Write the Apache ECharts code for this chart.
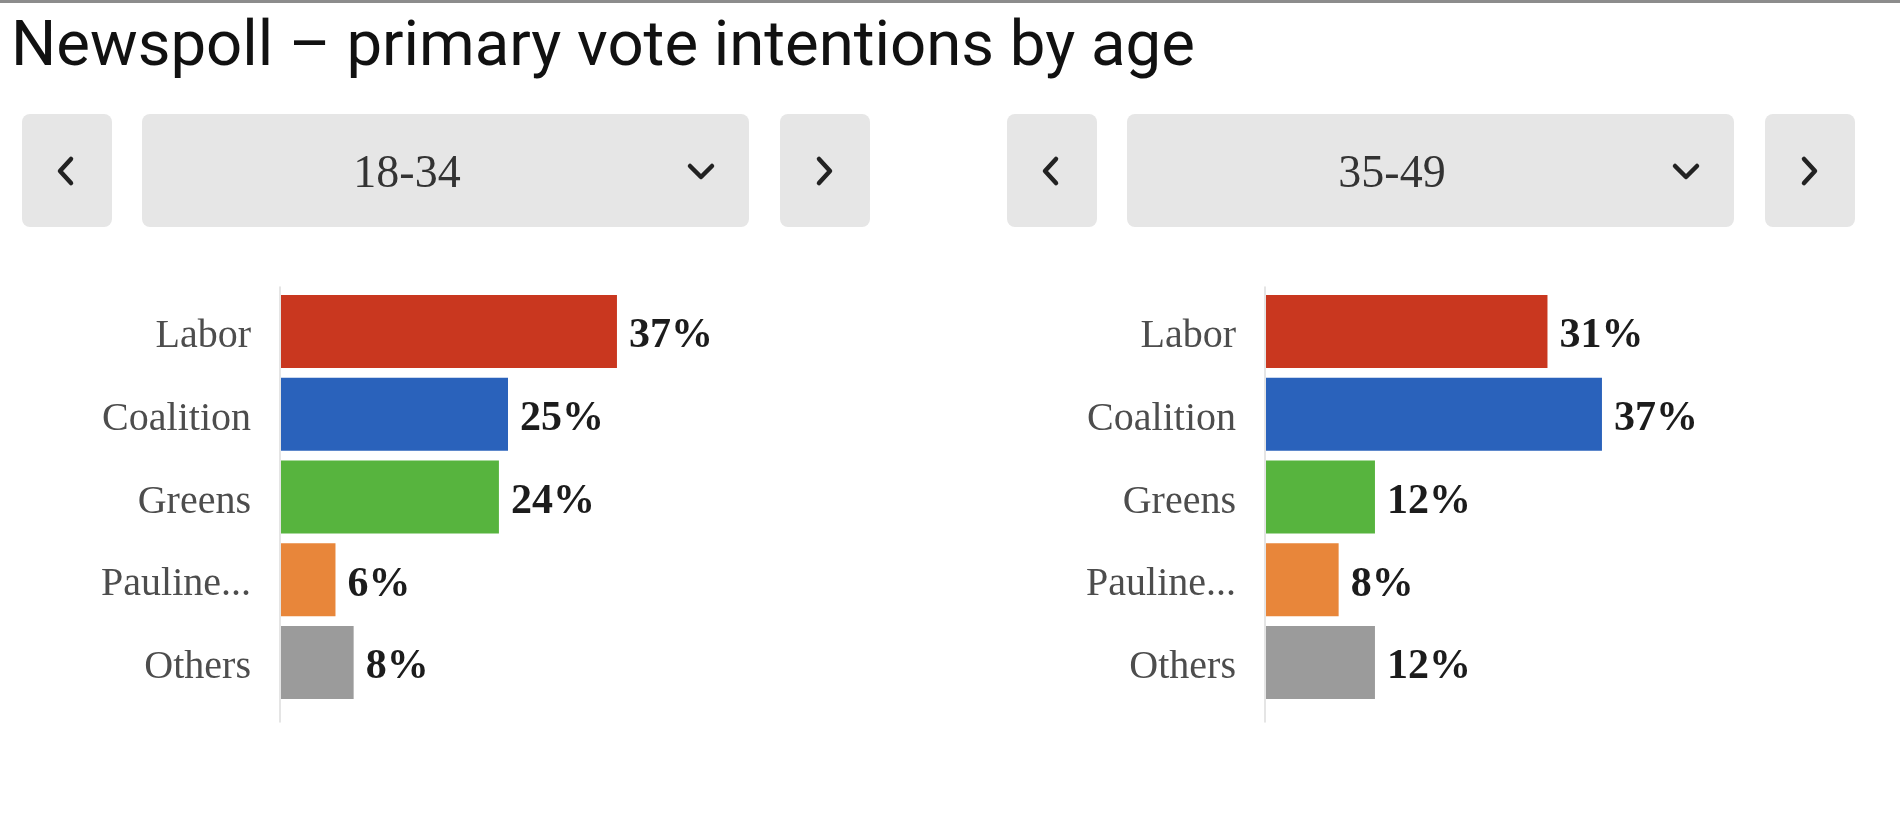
<!DOCTYPE html>
<html>
<head>
<meta charset="utf-8">
<script src="https://cdn.jsdelivr.net/npm/echarts@6/dist/echarts.min.js"></script>
<style>
  html, body { margin: 0; padding: 0; background: #fff; }
  #chart { width: 1900px; height: 814px; }
</style>
</head>
<body>
<div id="chart"></div>
<script>
// data
const categories = ['Labor', 'Coalition', 'Greens', 'Pauline...', 'Others'];
const ageGroups = ['18-34', '35-49'];
const values1834 = [37, 25, 24, 6, 8];
const values3549 = [31, 37, 12, 8, 12];
const panelValues = [values1834, values3549];

// styles
const partyColors = ['#c9371f', '#2a62bb', '#57b43e', '#e8863a', '#9b9b9b'];
const serif = '"Liberation Serif", "DejaVu Serif", serif';
const panelShift = [0, 985];   // horizontal offset of each panel
const btnFill = '#e6e6e6';
const arrowColor = '#222';

const myChart = echarts.init(document.getElementById('chart'));

// grids: one per panel for bars, plus one per panel for the long axis line
const grids = [];
const xAxes = [];
const yAxes = [];
const series = [];
panelValues.forEach(function (vals, i) {
  grids.push({ left: 281 + panelShift[i], top: 290, width: 454, height: 414 });
  xAxes.push({
    gridIndex: i, type: 'value', min: 0, max: 50, show: false
  });
  yAxes.push({
    gridIndex: i,
    type: 'category',
    data: categories,
    inverse: true,
    axisLine: { show: false },
    axisTick: { show: false },
    axisLabel: {
      margin: 30,
      formatter: function (v) { return '{c|' + v + '}'; },
      rich: {
        c: {
          color: '#4d4d4d',
          fontFamily: serif,
          fontSize: 40,
          padding: [10, 0, 0, 0]
        }
      }
    }
  });
  series.push({
    type: 'bar',
    xAxisIndex: i,
    yAxisIndex: i,
    barWidth: 73,
    data: vals.map(function (v, k) {
      return { value: v, itemStyle: { color: partyColors[k] } };
    }),
    label: {
      show: true,
      position: 'right',
      distance: 12,
      offset: [0, 5],
      formatter: '{c}%',
      color: '#1c1c1c',
      fontFamily: serif,
      fontWeight: 'bold',
      fontSize: 42
    },
    silent: true
  });
});
// thin axis lines
panelShift.forEach(function (dx, i) {
  grids.push({ left: 280 + dx, top: 287, width: 454, height: 435 });
  xAxes.push({ gridIndex: 2 + i, type: 'value', show: false });
  yAxes.push({
    gridIndex: 2 + i,
    type: 'value',
    axisLine: { show: true, lineStyle: { color: '#dcdcdc', width: 1.5 } },
    axisTick: { show: false },
    axisLabel: { show: false },
    splitLine: { show: false }
  });
});

// selector buttons above each panel
const graphics = [
  { type: 'rect', shape: { x: 0, y: 0, width: 1900, height: 3 }, style: { fill: '#8c8c8c' } }
];
const arrowStyle = { stroke: arrowColor, lineWidth: 4.5, lineCap: 'round', lineJoin: 'round', fill: 'none' };
ageGroups.forEach(function (age, i) {
  const dx = panelShift[i];
  graphics.push(
    { type: 'rect', shape: { x: 22 + dx, y: 114, width: 90, height: 113, r: 8 }, style: { fill: btnFill } },
    { type: 'rect', shape: { x: 142 + dx, y: 114, width: 607, height: 113, r: 8 }, style: { fill: btnFill } },
    { type: 'rect', shape: { x: 780 + dx, y: 114, width: 90, height: 113, r: 8 }, style: { fill: btnFill } },
    {
      type: 'polyline',
      shape: { points: [[71 + dx, 159], [60 + dx, 171], [71 + dx, 183]] },
      style: arrowStyle
    },
    {
      type: 'polyline',
      shape: { points: [[819 + dx, 159], [830 + dx, 171], [819 + dx, 183]] },
      style: arrowStyle
    },
    {
      type: 'polyline',
      shape: { points: [[690 + dx, 166], [701 + dx, 177], [712 + dx, 166]] },
      style: arrowStyle
    },
    {
      type: 'text',
      style: {
        text: age, x: 407 + dx, y: 175,
        fill: '#333', font: '46px ' + serif,
        align: 'center', verticalAlign: 'middle',
        textAlign: 'center', textVerticalAlign: 'middle'
      }
    }
  );
});

myChart.setOption({
  animation: false,
  title: {
    text: 'Newspoll – primary vote intentions by age',
    left: 6,
    top: 12,
    textStyle: {
      color: '#111',
      fontFamily: 'Roboto',
      fontWeight: 'normal',
      fontSize: 63.5
    }
  },
  grid: grids,
  xAxis: xAxes,
  yAxis: yAxes,
  series: series,
  graphic: graphics
});
</script>
</body>
</html>
